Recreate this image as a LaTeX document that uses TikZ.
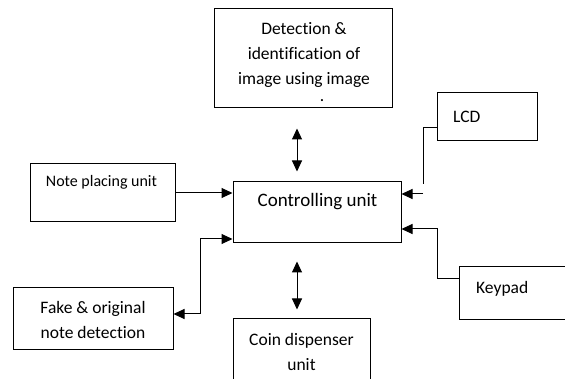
\documentclass[tikz,border=0pt]{standalone}
\usepackage{fontspec}
\setmainfont{Carlito}[Ligatures=NoCommon]
\usetikzlibrary{arrows.meta}

\tikzset{
  box/.style={draw,line width=1pt,rectangle,inner sep=0pt},
  txt/.style={inner sep=0pt,align=center,font=\fontsize{17.5}{25}\selectfont},
  arr/.style={line width=1pt,-{Triangle[length=11pt,width=10pt]}},
  biarr/.style={line width=1pt,{Triangle[length=11pt,width=10pt]}-{Triangle[length=11pt,width=10pt]}},
  wire/.style={line width=1pt}
}

\begin{document}
\begin{tikzpicture}[x=1pt,y=-1pt]
      \useasboundingbox (0,0) rectangle (565,379);
      \clip (0,0) rectangle (565,379);

      % boxes
      \node[box,minimum width=178pt,minimum height=99pt] (detect) at (303,58.5) {};
      \node[box,minimum width=168pt,minimum height=61pt] (ctrl) at (317,212.5) {};
      \node[box,minimum width=145pt,minimum height=58pt] (note) at (102.5,193) {};
      \node[box,minimum width=160pt,minimum height=62pt] (fake) at (93,319) {};
      \node[box,minimum width=100pt,minimum height=48pt] (lcd) at (487,117) {};
      \node[box,minimum width=130pt,minimum height=53pt] (keypad) at (524,293.5) {};
      \node[box,minimum width=137pt,minimum height=90pt] (coin) at (301.5,364) {};

      % texts
      \node[txt] (detecttxt) at (304,55) {Detection \&\\identification of\\image using image};
      \node[txt,font=\fontsize{17.5}{17.5}\selectfont] (detectdot) at (322,101) {.};
      \node[txt,font=\fontsize{19}{25}\selectfont] (ctrltxt) at (317.5,202) {Controlling unit};
      \node[txt,font=\fontsize{16}{22}\selectfont] (notetxt) at (101.5,182) {Note placing unit};
      \node[txt] (faketxt) at (93,319.5) {Fake \& original\\note detection};
      \node[txt,anchor=west] (lcdtxt) at (453,117) {LCD};
      \node[txt,anchor=west] (keypadtxt) at (476,289) {Keypad};
      \node[txt] (cointxt) at (301.5,352) {Coin dispenser\\unit};

      % connectors
      \draw[biarr,shorten <=20pt,shorten >=10pt] ([xshift=-6pt]detect.south)
        -- ([xshift=-6pt]detect.south |- ctrl.north);
      \draw[biarr,shorten <=18pt,shorten >=9pt] ([xshift=-20pt]ctrl.south)
        -- ([xshift=-20pt]ctrl.south |- coin.north);
      \draw[arr] (note.east) -- (note.east -| ctrl.west);

      \coordinate (split) at (200,314);
      \draw[arr] (split) |- ([yshift=-26.5pt]ctrl.west);
      \draw[arr] (split) -- (split -| fake.east);

      \coordinate (lcdend) at (423,184);
      \coordinate (lcdgap) at (423,194);
      \draw[wire] ([yshift=-11pt]lcd.west) -| (lcdend);
      \draw[arr] (lcdgap) -- (lcdgap -| ctrl.east);

      \draw[arr] ([yshift=14.5pt]keypad.west) -- ++(-21,0) |- ([yshift=-16.5pt]ctrl.east);
    \end{tikzpicture}
\end{document}
